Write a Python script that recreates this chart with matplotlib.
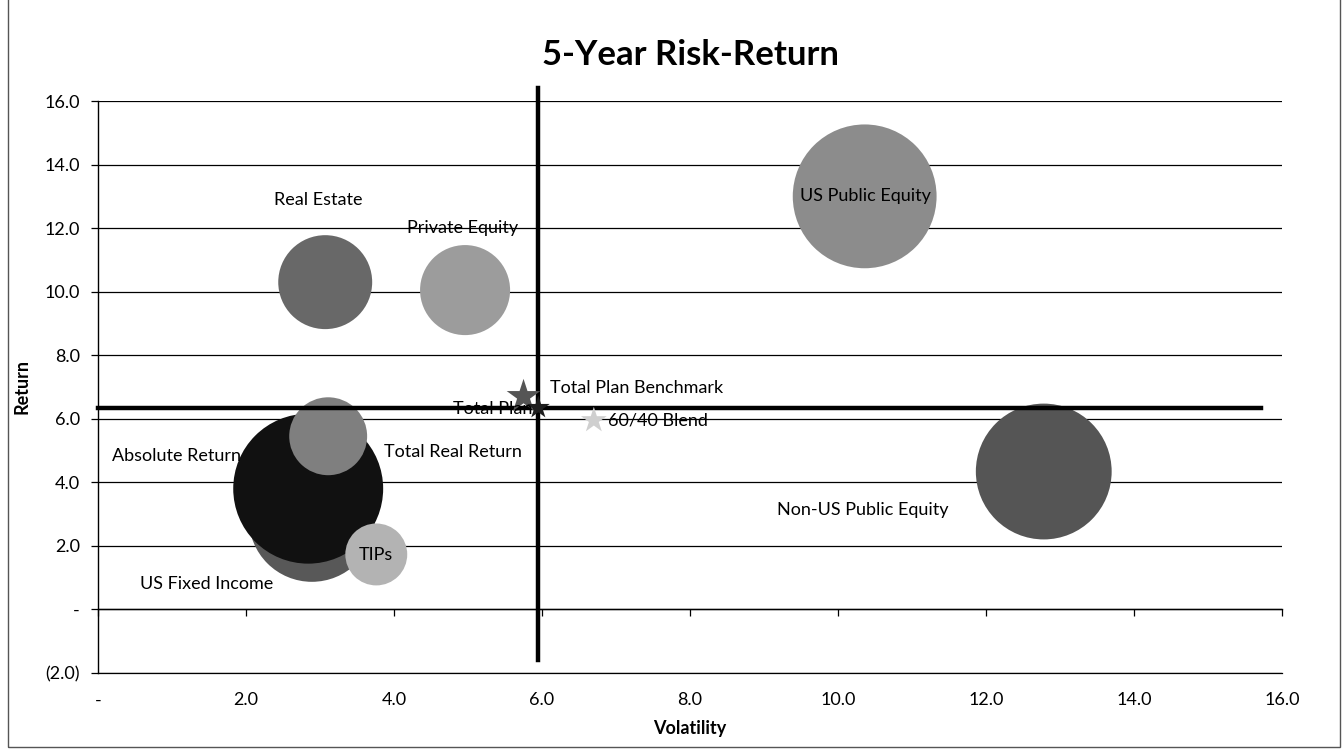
import matplotlib.pyplot as plt
from matplotlib.lines import Line2D

plt.rcParams['font.family'] = ['Lato', 'DejaVu Sans']

# asset classes: volatility, return, bubble size (relative allocation)
classes = ["US Fixed Income", "Absolute Return", "Total Real Return", "TIPs",
           "Real Estate", "Private Equity", "US Public Equity", "Non-US Public Equity"]
volatility = [2.89, 2.84, 3.11, 3.76, 3.07, 4.96, 10.36, 12.78]
returns = [2.85, 3.80, 5.45, 1.73, 10.30, 10.05, 13.00, 4.34]
bubble_size = [39.7, 56.3, 15.2, 9.6, 22.1, 20.3, 51.8, 46.2]
bubble_color = ["#585858", "#111111", "#7f7f7f", "#b3b3b3",
                "#686868", "#9c9c9c", "#8c8c8c", "#555555"]

# plan-level points drawn as stars
plans = ["Total Plan Benchmark", "Total Plan", "60/40 Blend"]
plan_vol = [5.75, 5.95, 6.70]
plan_ret = [6.70, 6.35, 5.95]
plan_color = ["#555555", "#1e1e1e", "#cfcfcf"]
plan_size = [650, 300, 380]

# reference lines through the total plan
hline_x = [0.0, 15.72]
vline_y = [-1.6, 16.4]

xticks = [0, 2, 4, 6, 8, 10, 12, 14, 16]
yticks = [-2, 0, 2, 4, 6, 8, 10, 12, 14, 16]


def fmt(v):
    if v == 0:
        return "-"
    if v < 0:
        return f"({abs(v):.1f})"
    return f"{v:.1f}"


# label placement: offset in pixels, horizontal alignment
label_style = {
    "US Fixed Income": ((-105, -65), "center"),
    "Absolute Return": ((-67, 33), "right"),
    "Total Real Return": ((56, -16), "left"),
    "TIPs": ((0, -1), "center"),
    "Real Estate": ((-7, 82), "center"),
    "Private Equity": ((-3, 62), "center"),
    "US Public Equity": ((1, 0), "center"),
    "Non-US Public Equity": ((-181, -38), "center"),
    "Total Plan Benchmark": ((26, 9), "left"),
    "Total Plan": ((-6, -1), "right"),
    "60/40 Blend": ((14, 0), "left"),
}

fig = plt.figure(figsize=(13.43, 7.5), dpi=100)
ax = fig.add_axes([0.073, 0.1027, 0.8816, 0.7626])

ax.set_xlim(0, 16)
ax.set_ylim(-2, 16)

ax.set_yticks(yticks)
ax.set_yticklabels([fmt(v) for v in yticks], fontsize=13)
ax.set_xticks(xticks)
ax.set_xticklabels([fmt(v) for v in xticks], fontsize=13)
ax.tick_params(axis='x', length=0, pad=14)
ax.tick_params(axis='y', length=5, width=0.9, direction='out', pad=8)
ax.grid(axis='y', color='black', linewidth=0.9)
ax.set_axisbelow(True)

for side in ['top', 'right']:
    ax.spines[side].set_visible(False)
ax.spines['left'].set_linewidth(1.0)
ax.spines['bottom'].set_linewidth(0.9)

# horizontal axis crosses at zero, with small tick marks
sec = ax.secondary_xaxis(2 / 18)
sec.set_xticks(xticks)
sec.set_xticklabels([])
sec.tick_params(length=5, width=0.9, direction='out')
sec.spines['bottom'].set_linewidth(1.0)

sizes = [207 * b for b in bubble_size]
for i in range(len(classes)):
    ax.scatter(volatility[i], returns[i], s=sizes[i], color=bubble_color[i],
               edgecolors='none', zorder=3)

ax.add_line(Line2D(hline_x, [plan_ret[1]] * 2, color='black', linewidth=3.2,
                   zorder=4, clip_on=False))
ax.add_line(Line2D([plan_vol[1]] * 2, vline_y, color='black', linewidth=3.2,
                   zorder=4, clip_on=False))

for i in range(len(plans)):
    ax.scatter(plan_vol[i], plan_ret[i], s=plan_size[i], marker='*',
               color=plan_color[i], edgecolors='none', zorder=5)

names = classes + plans
xs = volatility + plan_vol
ys = returns + plan_ret
for name, x, y in zip(names, xs, ys):
    off, ha = label_style[name]
    ax.annotate(name, (x, y), xytext=off, textcoords='offset pixels',
                ha=ha, va='center', fontsize=13, color='black', zorder=6)

ax.set_xlabel("Volatility", fontsize=13, fontweight='bold', labelpad=8)
ax.set_ylabel("Return", fontsize=13, fontweight='bold', labelpad=10)
ax.set_title("5-Year Risk-Return", fontsize=25, fontweight='bold', pad=26)

# chart area border
fig.add_artist(plt.Rectangle((0.006, 0.004), 0.992, 1.2, transform=fig.transFigure,
                             fill=False, edgecolor='#555555', linewidth=1.0))

fig.savefig("out.png", dpi=100)
